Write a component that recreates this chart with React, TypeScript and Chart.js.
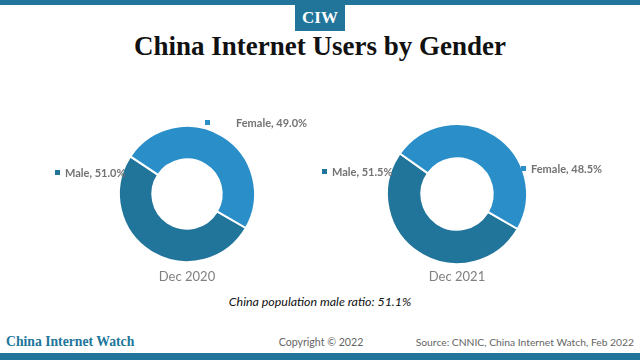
import React, { useEffect, useRef } from "react";
import { Chart, registerables } from "chart.js";

Chart.register(...registerables);

// ---- data ----
const genders = ["Male", "Female"];
const periods = ["Dec 2020", "Dec 2021"];
const share2020 = [51.0, 49.0];
const share2021 = [51.5, 48.5];
const populationMaleRatio = 51.1;
const titleText = "China Internet Users by Gender";
const sourceText = "Source: CNNIC, China Internet Watch, Feb 2022";
const copyrightText = "Copyright © 2022";
const brandText = "China Internet Watch";

// ---- style / layout ----
const BLUE = "#21759b";
const COLORS = ["#21749a", "#2a8fc9"];
const LABEL_GRAY = "#737373";
const FONT = "Lato, 'Open Sans', sans-serif";
const SERIF = "'Liberation Serif', 'DejaVu Serif', serif";

type LabelPos = { x: number; y: number };
type DonutLayout = { cx: number; cy: number; r: number; labels: LabelPos[] };

const layouts: DonutLayout[] = [
  { cx: 187, cy: 194, r: 68, labels: [{ x: 55, y: 172 }, { x: 205, y: 122 }] },
  { cx: 457, cy: 194, r: 70, labels: [{ x: 322, y: 171 }, { x: 521, y: 168 }] },
];

function Donut({ values, period, layout }: { values: number[]; period: string; layout: DonutLayout }) {
  const ref = useRef<HTMLCanvasElement | null>(null);
  const size = 160;
  useEffect(() => {
    if (!ref.current) return;
    const chart = new Chart(ref.current, {
      type: "doughnut",
      data: {
        labels: genders,
        datasets: [
          {
            data: values,
            backgroundColor: COLORS,
            borderColor: "#ffffff",
            borderWidth: 2,
            radius: layout.r,
          } as any,
        ],
      },
      options: {
        responsive: false,
        maintainAspectRatio: false,
        animation: false,
        rotation: 120,
        cutout: "51%",
        layout: { padding: 0 },
        plugins: { legend: { display: false }, tooltip: { enabled: false } },
      },
    });
    return () => chart.destroy();
  }, [values, layout]);

  return (
    <>
      <canvas
        ref={ref}
        width={size}
        height={size}
        style={{ position: "absolute", left: layout.cx - size / 2, top: layout.cy - size / 2, width: size, height: size }}
      />
      {genders.map((g, i) => (
        <div
          key={g}
          style={{
            position: "absolute",
            left: layout.labels[i].x,
            top: layout.labels[i].y - 8,
            height: 16,
            display: "flex",
            alignItems: "center",
            whiteSpace: "nowrap",
            font: `bold 11px ${FONT}`,
            color: LABEL_GRAY,
          }}
        >
          <span style={{ display: "inline-block", width: 5, height: 5, background: COLORS[i], marginRight: i === 1 && layout.cx < 300 ? 26 : 5 }} />
          {`${g}, ${values[i].toFixed(1)}%`}
        </div>
      ))}
      <div
        style={{
          position: "absolute",
          left: layout.cx - 60,
          width: 120,
          top: layout.cy + 74,
          textAlign: "center",
          font: `13px ${FONT}`,
          color: "#808080",
        }}
      >
        {period}
      </div>
    </>
  );
}

export default function App() {
  useEffect(() => {
    document.body.style.margin = "0";
  }, []);
  return (
    <div style={{ position: "relative", width: 640, height: 360, overflow: "hidden", background: "#fff" }}>
      <div style={{ position: "absolute", left: 0, top: 0, width: 640, height: 5, background: BLUE }} />
      <div
        style={{
          position: "absolute",
          left: 295,
          top: 5,
          width: 50,
          height: 26,
          background: BLUE,
          color: "#fff",
          font: `bold 17px ${SERIF}`,
          display: "flex",
          alignItems: "center",
          justifyContent: "center",
        }}
      >
        CIW
      </div>
      <div
        style={{
          position: "absolute",
          left: 0,
          width: 640,
          top: 31,
          textAlign: "center",
          font: `bold 27px ${SERIF}`,
          color: "#111",
        }}
      >
        {titleText}
      </div>
      <Donut values={share2020} period={periods[0]} layout={layouts[0]} />
      <Donut values={share2021} period={periods[1]} layout={layouts[1]} />
      <div
        style={{
          position: "absolute",
          left: 0,
          width: 640,
          top: 294,
          textAlign: "center",
          font: `italic 12.4px ${FONT}`,
          color: "#111",
        }}
      >
        {`China population male ratio: ${populationMaleRatio.toFixed(1)}%`}
      </div>
      <div style={{ position: "absolute", left: 6, top: 334, font: `bold 13.7px ${SERIF}`, color: BLUE }}>{brandText}</div>
      <div style={{ position: "absolute", left: 221, width: 200, top: 336, textAlign: "center", font: `10.6px ${FONT}`, color: "#666" }}>
        {copyrightText}
      </div>
      <div style={{ position: "absolute", right: 6, top: 336, font: `10.3px ${FONT}`, color: "#666" }}>{sourceText}</div>
      <div style={{ position: "absolute", left: 0, top: 353, width: 640, height: 7, background: BLUE }} />
    </div>
  );
}
